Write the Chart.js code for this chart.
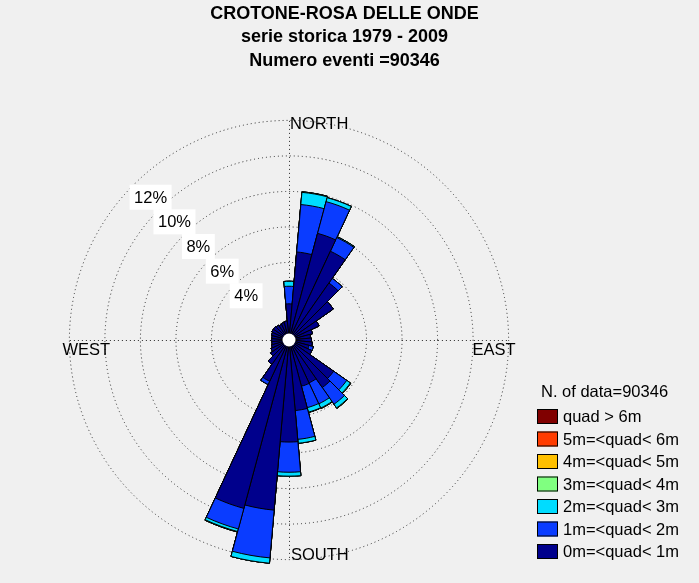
<!DOCTYPE html>
<html>
<head>
<meta charset="utf-8">
<script src="https://cdn.jsdelivr.net/npm/chart.js@4.4.0/dist/chart.umd.min.js"></script>
<style>
  html, body { margin: 0; padding: 0; background: #f0f0f0; }
</style>
</head>
<body>
<canvas id="rosa" width="699" height="583"></canvas>
<script>
// testi
var titolo = ['CROTONE-ROSA DELLE ONDE', 'serie storica 1979 - 2009', 'Numero eventi =90346'];
var nDati = 90346;
var puntiCardinali = ['NORTH', 'EAST', 'SOUTH', 'WEST'];
var tickPerc = [4, 6, 8, 10, 12];

// settori di provenienza (gradi), 10 gradi ciascuno
var direzioni = [0, 10, 20, 30, 40, 50, 60, 70, 80, 90, 100, 110,
                 120, 130, 140, 150, 160, 170, 180, 190, 200, 210, 220, 230,
                 240, 250, 260, 270, 280, 290, 300, 310, 320, 330, 340, 350];

// classi di altezza d'onda
var classi = ['0m=<quad< 1m', '1m=<quad< 2m', '2m=<quad< 3m', '3m=<quad< 4m',
              '4m=<quad< 5m', '5m=<quad< 6m', 'quad > 6m'];
var colori = ['#00008c', '#0a3cff', '#00dcff', '#80ff80', '#ffc000', '#ff3c00', '#800000'];

// frequenza (%) per settore e classe
var h0_1 = [1.67, 4.61, 5.85, 5.15, 3.55, 2.68, 1.50, 1.00, 0.85, 0.90, 0.95, 0.80,
            1.05, 2.70, 2.90, 2.30, 2.33, 3.62, 5.38, 9.25, 9.45, 2.20, 1.30, 0.90,
            0.75, 0.65, 0.60, 0.60, 0.60, 0.65, 0.70, 0.70, 0.65, 0.60, 0.65, 0.70];
var h1_2 = [0.99, 2.68, 1.85, 0.85, 0.32, 0.00, 0.00, 0.00, 0.00, 0.00, 0.00, 0.25,
            0.00, 0.90, 1.15, 1.30, 1.25, 1.63, 1.70, 2.70, 1.20, 0.20, 0.00, 0.00,
            0.00, 0.00, 0.00, 0.00, 0.00, 0.00, 0.00, 0.00, 0.00, 0.00, 0.00, 0.00];
var h2_3 = [0.28, 0.69, 0.23, 0.05, 0.00, 0.00, 0.00, 0.00, 0.00, 0.00, 0.00, 0.00,
            0.00, 0.25, 0.25, 0.26, 0.26, 0.22, 0.22, 0.30, 0.15, 0.00, 0.00, 0.00,
            0.00, 0.00, 0.00, 0.00, 0.00, 0.00, 0.00, 0.00, 0.00, 0.00, 0.00, 0.00];
var h3_4 = [0.00, 0.03, 0.00, 0.00, 0.00, 0.00, 0.00, 0.00, 0.00, 0.00, 0.00, 0.00,
            0.00, 0.03, 0.03, 0.03, 0.02, 0.00, 0.00, 0.00, 0.03, 0.00, 0.00, 0.00,
            0.00, 0.00, 0.00, 0.00, 0.00, 0.00, 0.00, 0.00, 0.00, 0.00, 0.00, 0.00];
var h4_5 = [0, 0, 0, 0, 0, 0, 0, 0, 0, 0, 0, 0, 0, 0, 0, 0, 0, 0,
            0, 0, 0, 0, 0, 0, 0, 0, 0, 0, 0, 0, 0, 0, 0, 0, 0, 0];
var h5_6 = [0, 0, 0, 0, 0, 0, 0, 0, 0, 0, 0, 0, 0, 0, 0, 0, 0, 0,
            0, 0, 0, 0, 0, 0, 0, 0, 0, 0, 0, 0, 0, 0, 0, 0, 0, 0];
var h6 = [0, 0, 0, 0, 0, 0, 0, 0, 0, 0, 0, 0, 0, 0, 0, 0, 0, 0,
          0, 0, 0, 0, 0, 0, 0, 0, 0, 0, 0, 0, 0, 0, 0, 0, 0, 0];

var serie = [h0_1, h1_2, h2_3, h3_4, h4_5, h5_6, h6];

// cumulate: il dataset 0 viene disegnato per ultimo (sopra)
var cumulata = direzioni.map(function () { return 0; });
var datasets = serie.map(function (s, k) {
  cumulata = cumulata.map(function (v, i) { return v + s[i]; });
  return {
    label: classi[k],
    data: cumulata.slice(),
    backgroundColor: colori[k],
    borderColor: '#000000',
    borderWidth: 1
  };
});

var FONT = "'Liberation Sans', Arial, Helvetica, sans-serif";

var rosaPlugin = {
  id: 'rosa',
  beforeDatasetsDraw: function (chart) {
    var s = chart.scales.r, c = chart.ctx;
    var R = s.getDistanceFromCenterForValue(tickPerc[tickPerc.length - 1]);
    var cx = s.xCenter + 0.5, cy = s.yCenter + 0.5;
    c.save();
    c.strokeStyle = '#2a2a2a';
    c.lineWidth = 1;
    c.setLineDash([1, 3]);
    c.beginPath();
    c.moveTo(cx - R, cy); c.lineTo(cx + R, cy);
    c.moveTo(cx, cy - R); c.lineTo(cx, cy + R);
    c.stroke();
    c.restore();
  },
  afterDatasetsDraw: function (chart) {
    var s = chart.scales.r, c = chart.ctx;
    var cx = s.xCenter, cy = s.yCenter;
    var R = s.getDistanceFromCenterForValue(tickPerc[tickPerc.length - 1]);
    c.save();

    // buco centrale
    c.fillStyle = '#ffffff';
    c.beginPath();
    c.arc(cx, cy, s.getDistanceFromCenterForValue(0), 0, Math.PI * 2);
    c.fill();

    // etichette percentuali
    c.font = '16.5px ' + FONT;
    c.textBaseline = 'middle';
    c.textAlign = 'center';
    tickPerc.forEach(function (v) {
      var d = 0.966 * s.getDistanceFromCenterForValue(v) - 13.3;
      var x = cx - 0.696 * d, y = cy - 0.718 * d;
      var t = v + '%';
      var w = c.measureText(t).width + 9;
      c.fillStyle = '#ffffff';
      c.fillRect(x - w / 2, y - 12.5, w, 25);
      c.fillStyle = '#000000';
      c.fillText(t, x, y + 1);
    });

    // punti cardinali
    c.textAlign = 'left';
    c.fillText(puntiCardinali[0], cx + 1, cy - R + 4);
    c.fillText(puntiCardinali[2], cx + 2, cy + R - 4);
    c.fillText(puntiCardinali[3], cx - R - 7, cy + 10);
    c.textAlign = 'right';
    c.fillText(puntiCardinali[1], cx + R + 7, cy + 10);
    c.restore();
  },
  afterDraw: function (chart) {
    var c = chart.ctx;
    c.save();
    c.fillStyle = '#000000';
    c.textBaseline = 'middle';

    // titolo
    c.textAlign = 'center';
    c.font = 'bold 18px ' + FONT;
    titolo.forEach(function (t, i) {
      c.fillText(t, 344.5, 14 + i * 23.5);
    });

    // legenda
    c.textAlign = 'left';
    c.font = '16.5px ' + FONT;
    c.fillText('N. of data=' + nDati, 541, 392);
    var ds = chart.data.datasets.slice().reverse();
    ds.forEach(function (d, i) {
      var y = 416.5 + i * 22.5;
      c.fillStyle = d.backgroundColor;
      c.fillRect(537, y - 7.5, 21, 15);
      c.strokeStyle = '#000000';
      c.lineWidth = 1;
      c.strokeRect(537.5, y - 7, 20, 14);
      c.fillStyle = '#000000';
      c.fillText(d.label, 563, y + 1);
    });
    c.restore();
  }
};

var rosa = new Chart(document.getElementById('rosa').getContext('2d'), {
  type: 'polarArea',
  data: {
    labels: direzioni.map(function (d) { return d + '°'; }),
    datasets: datasets
  },
  options: {
    responsive: false,
    animation: false,
    layout: { padding: { left: 49, right: 170, top: 100, bottom: 3 } },
    plugins: {
      legend: { display: false },
      title: { display: false },
      tooltip: { enabled: false }
    },
    scales: {
      r: {
        min: -0.366,
        max: 13.148,
        startAngle: -5,
        afterBuildTicks: function (scale) {
          scale.ticks = tickPerc.map(function (v) { return { value: v }; });
        },
        ticks: { display: false },
        grid: { color: '#2a2a2a', lineWidth: 1 },
        border: { dash: [1, 3] },
        angleLines: { display: false },
        pointLabels: { display: false }
      }
    }
  },
  plugins: [rosaPlugin]
});
</script>
</body>
</html>
